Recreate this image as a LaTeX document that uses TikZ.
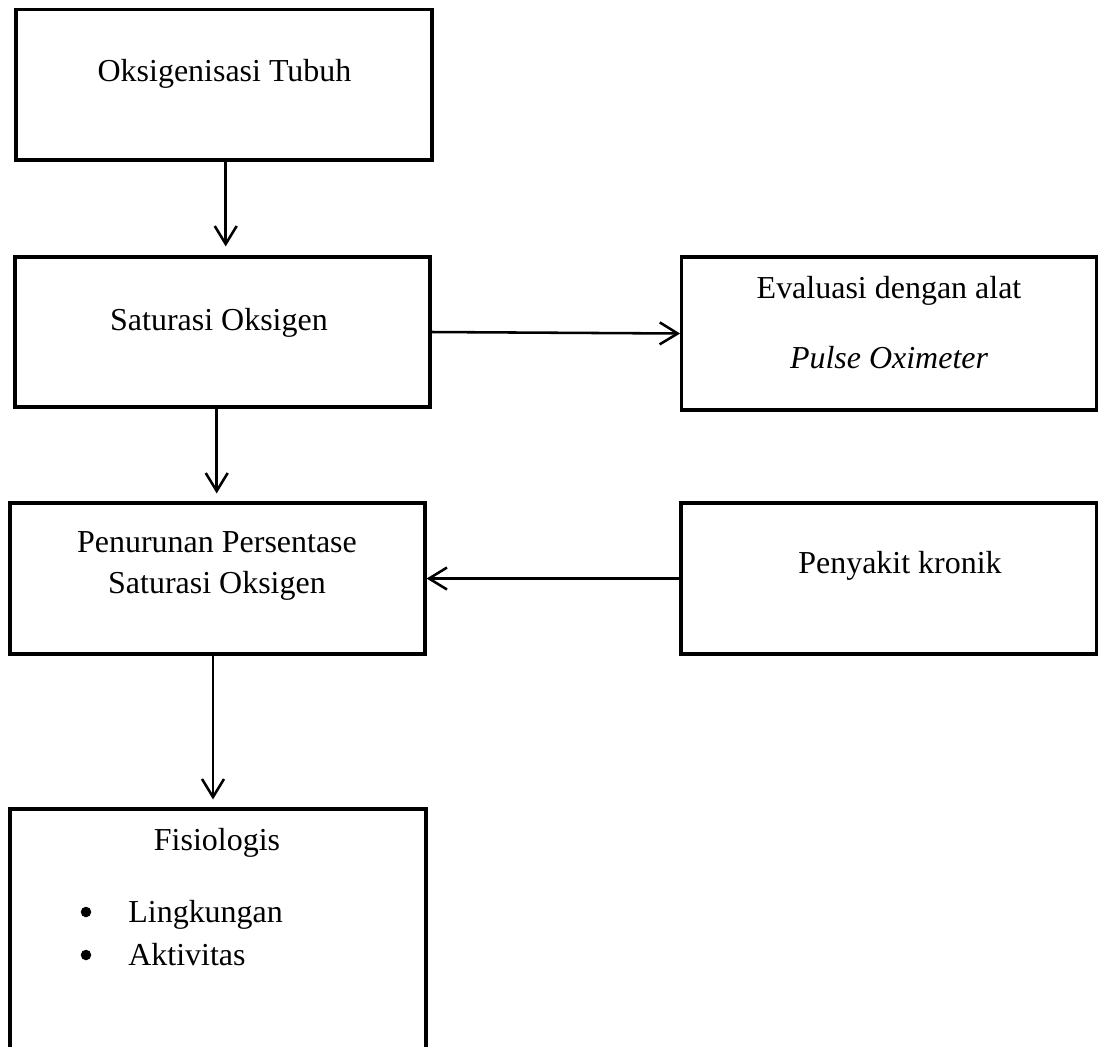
\documentclass[tikz,border=0pt]{standalone}
\usepackage{fontspec}
\setmainfont{Liberation Serif}
\usetikzlibrary{arrows.meta,calc,fit}
\begin{document}
\begin{tikzpicture}[x=0.02cm,y=-0.02cm,
  box/.style={draw, line width=1.8pt, inner sep=0pt, rectangle},
  lbl/.style={anchor=base, inner sep=0pt, font=\fontsize{18.2}{21}\selectfont},
  lblw/.style={anchor=base west, inner sep=0pt, font=\fontsize{18.2}{21}\selectfont},
  dot/.style={circle, fill, inner sep=0pt, minimum size=0.21cm},
  arr/.style={line width=1.45pt, -{Straight Barb[length=0.36cm,width=0.44cm,line width=1.45pt]}}]
\clip (0,0) rectangle (1098,1046);
\fill[white] (0,0) rectangle (1098,1046);
% boxes
\node[box, fit={(16,9.5) (432,160)}] (b1) {};
\node[box, fit={(15,257) (430,407)}] (b2) {};
\node[box, fit={(681.7,257) (1096.7,410)}] (b3) {};
\node[box, fit={(10,503) (425,654)}] (b4) {};
\node[box, fit={(681,503) (1096.7,654)}] (b5) {};
\node[box, fit={(10,809) (426,1100)}] (b6) {};
% texts
\node[lbl] (t1) at (224.5,81) {Oksigenisasi Tubuh};
\node[lbl] (t2) at (219,330) {Saturasi Oksigen};
\node[lbl] (t3) at (889,298) {Evaluasi dengan alat};
\node[lbl] (t4) at (889,368) {\itshape Pulse Oximeter};
\node[lbl] (t5) at (217,552) {Penurunan Persentase};
\node[lbl] (t6) at (217,593) {Saturasi Oksigen};
\node[lbl] (t7) at (900,573) {Penyakit kronik};
\node[lbl] (t8) at (217,850) {Fisiologis};
\node[dot] (bu1) at (86,912) {};
\node[dot] (bu2) at (86,955) {};
\node[lblw] (t9) at (128,922) {Lingkungan};
\node[lblw] (t10) at (128,965) {Aktivitas};
% arrows
\draw[arr, shorten >=0.18cm] ($(b1.south)+(1.7,0)$) -- ($(b2.north)+(3.2,0)$);
\draw[arr] (b2.east) -- (b3.west);
\draw[arr, shorten >=0.16cm] ($(b2.south)+(-5.8,0)$) -- ($(b4.north)+(-0.8,0)$);
\draw[arr] (b5.west) -- (b4.east);
\draw[arr, shorten >=0.16cm] ($(b4.south)+(-4.5,0)$) -- ($(b6.north)+(-5,0)$);
\end{tikzpicture}
\end{document}
